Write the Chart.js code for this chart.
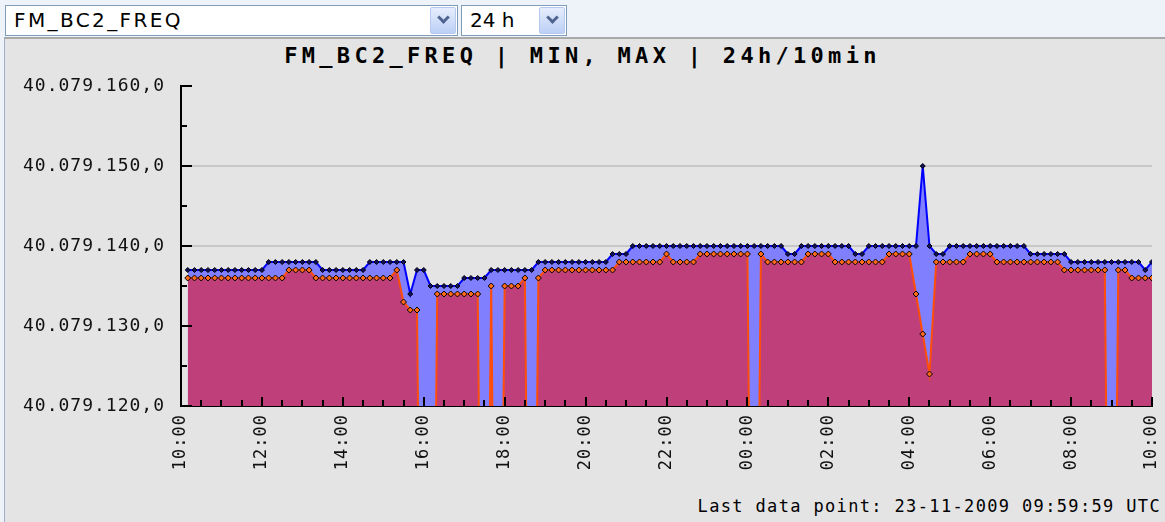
<!DOCTYPE html>
<html>
<head>
<meta charset="utf-8">
<script src="https://cdn.jsdelivr.net/npm/chart.js@4/dist/chart.umd.min.js"></script>
<style>
  html, body { margin: 0; padding: 0; }
  body {
    width: 1165px; height: 522px; overflow: hidden; position: relative;
    background: #eef2f9; font-family: "DejaVu Sans", sans-serif;
  }
  .sel {
    position: absolute; top: 5px; height: 31px; box-sizing: border-box;
    background: #fff; border: 1px solid #7f9db9;
    font-size: 20px; line-height: 29px; padding-left: 8px; color: #000;
  }
  .sel .btn {
    position: absolute; right: 1px; top: 1px; width: 26px; height: 27px; box-sizing: border-box;
    background: linear-gradient(#e6eefd, #bccff6); border: 1px solid #b7c9ee; border-radius: 2px;
  }
  .sel .btn::after {
    content: ""; position: absolute; left: 8px; top: 5px; width: 6px; height: 6px;
    border-right: 3px solid #4f6590; border-bottom: 3px solid #4f6590; transform: rotate(45deg);
  }
  #panel {
    position: absolute; left: 4px; top: 37px; right: 0; bottom: 0;
    background: #e4e4e4; border-left: 1px solid #9eb0ca; border-top: 2px solid #a9a9a9;
  }
  #title {
    position: absolute; left: 0; width: 1165px; top: 43px; text-align: center;
    font: bold 22px "DejaVu Sans Mono", monospace; letter-spacing: 4.3px; color: #000;
  }
  #footer {
    position: absolute; right: 4px; top: 496px;
    font: 17px "DejaVu Sans Mono", monospace; letter-spacing: 1.35px; color: #000;
  }
  #chart { position: absolute; left: 0; top: 0; }
</style>
</head>
<body>
<div class="sel" style="left:5px; width:453px; letter-spacing:2.4px;">FM_BC2_FREQ<div class="btn"></div></div>
<div class="sel" style="left:461px; width:106px;">24 h<div class="btn"></div></div>
<div id="panel"></div>
<div id="title">FM_BC2_FREQ | MIN, MAX | 24h/10min</div>
<div id="footer">Last data point: 23-11-2009 09:59:59 UTC</div>
<canvas id="chart" width="1165" height="522"></canvas>
<script>
// frequency readings in Hz above 40.079.000 Hz, one value per 10 min slot (10:00 -> 10:00)
const BASE_HZ = 40079000;
const SLOT_MIN = 10;

const maxHz = [
  137, 137, 137, 137, 137, 137, 137, 137, 137, 137, 137, 137,
  138, 138, 138, 138, 138, 138, 138, 138, 137, 137, 137, 137,
  137, 137, 137, 138, 138, 138, 138, 138, 138, 134, 137, 137,
  135, 135, 135, 135, 135, 136, 136, 136, 136, 137, 137, 137,
  137, 137, 137, 137, 138, 138, 138, 138, 138, 138, 138, 138,
  138, 138, 138, 139, 139, 139, 140, 140, 140, 140, 140, 140,
  140, 140, 140, 140, 140, 140, 140, 140, 140, 140, 140, 140,
  140, 140, 140, 140, 140, 139, 139, 140, 140, 140, 140, 140,
  140, 140, 140, 139, 139, 140, 140, 140, 140, 140, 140, 140,
  140, 150, 140, 139, 139, 140, 140, 140, 140, 140, 140, 140,
  140, 140, 140, 140, 140, 139, 139, 139, 139, 139, 139, 138,
  138, 138, 138, 138, 138, 138, 138, 138, 138, 138, 137, 138,
];

// 50 = dropout reading far below the visible range
const minHz = [
  136, 136, 136, 136, 136, 136, 136, 136, 136, 136, 136, 136,
  136, 136, 136, 137, 137, 137, 137, 136, 136, 136, 136, 136,
  136, 136, 136, 136, 136, 136, 136, 137, 133, 132, 132, 50,
  50, 134, 134, 134, 134, 134, 134, 134, 50, 135, 50, 135,
  135, 135, 136, 50, 136, 137, 137, 137, 137, 137, 137, 137,
  137, 137, 137, 137, 138, 138, 138, 138, 138, 138, 138, 139,
  138, 138, 138, 138, 139, 139, 139, 139, 139, 139, 139, 139,
  50, 139, 138, 138, 138, 138, 138, 138, 139, 139, 139, 139,
  138, 138, 138, 138, 138, 138, 138, 138, 139, 139, 139, 139,
  134, 129, 124, 138, 138, 138, 138, 138, 139, 139, 139, 139,
  138, 138, 138, 138, 138, 138, 138, 138, 138, 138, 137, 137,
  137, 137, 137, 137, 137, 50, 137, 137, 136, 136, 136, 136,
];

const yTickValues = [120, 130, 140, 150, 160];
const yTickLabels = ['40.079.120,0', '40.079.130,0', '40.079.140,0', '40.079.150,0', '40.079.160,0'];
const xTickLabels = ['10:00', '12:00', '14:00', '16:00', '18:00', '20:00', '22:00',
  '00:00', '02:00', '04:00', '06:00', '08:00', '10:00'];

const toPoints = (arr) => arr.map((v, i) => ({ x: (i + 1) * SLOT_MIN, y: v }));

// ticks are drawn inside the plot, like the original rrd-ish graph
const innerTicks = {
  id: 'innerTicks',
  afterDraw(chart) {
    const { ctx, chartArea, scales: { x, y } } = chart;
    ctx.save();
    ctx.strokeStyle = '#000';
    ctx.lineWidth = 2;
    ctx.beginPath();
    for (let v = 120; v <= 160; v += 5) {
      const py = Math.round(y.getPixelForValue(v));
      ctx.moveTo(chartArea.left, py);
      ctx.lineTo(chartArea.left + (v % 10 === 0 ? 11 : 6), py);
    }
    for (let m = 0; m <= 1440; m += 30) {
      const px = Math.round(x.getPixelForValue(m));
      ctx.moveTo(px, chartArea.bottom);
      ctx.lineTo(px, chartArea.bottom - (m % 120 === 0 ? 9 : 6));
    }
    ctx.stroke();
    ctx.restore();
  },
};

const spacing = {
  id: 'spacing',
  beforeDraw(chart) { chart.ctx.letterSpacing = '1px'; },
  afterDraw(chart) { chart.ctx.letterSpacing = '0px'; },
};

new Chart('chart', {
  type: 'line',
  plugins: [spacing, innerTicks],
  data: {
    datasets: [
      {
        label: 'MIN',
        data: toPoints(minHz),
        borderColor: '#ff4d0a',
        borderWidth: 2,
        backgroundColor: '#bf3f7a',
        fill: 'start',
        pointStyle: 'rectRot',
        pointRadius: 3,
        pointBackgroundColor: '#ff6a1a',
        pointBorderColor: '#000',
        pointBorderWidth: 1,
      },
      {
        label: 'MAX',
        data: toPoints(maxHz),
        borderColor: '#0000ff',
        borderWidth: 2,
        backgroundColor: '#8080ff',
        fill: 'start',
        pointStyle: 'rectRot',
        pointRadius: 2.5,
        pointBackgroundColor: '#101060',
        pointBorderColor: '#000',
        pointBorderWidth: 1,
      },
    ],
  },
  options: {
    responsive: false,
    animation: false,
    events: [],
    layout: { padding: { top: 86, right: 13, bottom: 0, left: 0 } },
    elements: { line: { tension: 0 } },
    scales: {
      x: {
        type: 'linear',
        min: 0,
        max: 1440,
        z: 1,
        afterFit: (scale) => {
          scale.height = 116;
          scale.paddingLeft = 0;
          scale.paddingRight = 0;
        },
        border: { color: '#000', width: 2 },
        grid: { display: false, drawTicks: false },
        ticks: {
          stepSize: 120,
          autoSkip: false,
          minRotation: 90,
          maxRotation: 90,
          padding: 8,
          color: '#111',
          font: { family: '"DejaVu Sans Mono", monospace', size: 17 },
          callback: (v) => xTickLabels[v / 120],
        },
      },
      y: {
        min: 120,
        max: 160,
        z: 1,
        afterFit: (scale) => {
          scale.width = 181;
          scale.paddingTop = 0;
          scale.paddingBottom = 0;
        },
        border: { color: '#000', width: 2 },
        grid: {
          drawTicks: false,
          lineWidth: 2,
          color: (ctx) => ([130, 140, 150].includes(ctx.tick.value) ? 'rgba(0,0,0,0.12)' : 'rgba(0,0,0,0)'),
        },
        ticks: {
          stepSize: 10,
          padding: 16,
          color: '#111',
          font: { family: '"DejaVu Sans Mono", monospace', size: 18 },
          callback: (v) => yTickLabels[yTickValues.indexOf(v)],
        },
      },
    },
    plugins: {
      legend: { display: false },
      tooltip: { enabled: false },
      title: { display: false },
    },
  },
});
</script>
</body>
</html>
